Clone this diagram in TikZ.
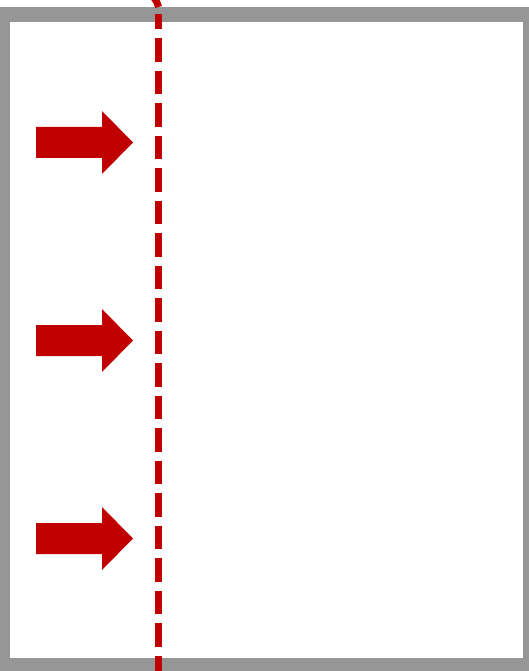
\documentclass[tikz,border=0pt]{standalone}
\usepackage{xcolor}
\definecolor{frameGray}{RGB}{150, 150, 150}
\definecolor{flowRed}{RGB}{192, 0, 0}
\usepackage{tikz}
\tikzset{
    cutline/.style={flowRed, line width=7pt},
    flowarrow/.style={fill=flowRed, draw=none}
}

\begin{document}
\begin{tikzpicture}[x=1pt, y=-1pt]
    \useasboundingbox (0,0) rectangle (529,671);
    \clip (0,0) rectangle (529,671);
    % frame
    \fill[frameGray] (0,7) rectangle (529,671);
    \fill[white] (10,22) rectangle (523,658);
    % inflow arrows
    \foreach \yc in {142.5, 340.5, 538.5} {
        \fill[flowarrow] (36,\yc-15.5) -- (102,\yc-15.5) -- (102,\yc-31.5)
            -- (133,\yc) -- (102,\yc+31.5) -- (102,\yc+15.5) -- (36,\yc+15.5) -- cycle;
    }
    % boundary line
    \draw[cutline] (152.5,-4) .. controls (156,0) and (157.5,3) .. (158.5,7);
    \draw[cutline, dash pattern=on 23.5pt off 9pt, dash phase=8.7pt] (158.5,14.5) -- (158.5,690);
\end{tikzpicture}
\end{document}
